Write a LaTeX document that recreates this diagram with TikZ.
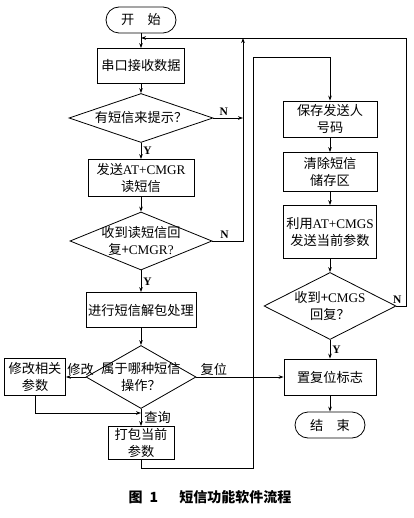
\documentclass[tikz,border=0pt]{standalone}
\usepackage{fontspec}
\setmainfont{Liberation Serif}
\newfontfamily\cjk{Noto Sans CJK SC}
\usetikzlibrary{arrows.meta,shapes.geometric}

\newcommand{\lat}[1]{{\rmfamily #1}}

\tikzset{
  txt/.style={font=\cjk\fontsize{13.2}{16.5}\selectfont},
  proc/.style 2 args={draw, rectangle, txt, align=center, inner sep=1pt,
    minimum width=#1, minimum height=#2},
  term/.style={draw, rounded corners=13pt, txt, minimum width=70pt, minimum height=26pt},
  dec/.style 2 args={draw, diamond, inner sep=0pt, minimum width=#1, minimum height=#2},
  yn/.style={font=\bfseries\fontsize{11.5}{11.5}\selectfont, inner sep=2pt}
}

\begin{document}
\begin{tikzpicture}[>={Stealth[length=5pt,width=3.6pt]}, thick, x=1pt, y=-1pt]
    \useasboundingbox (0,0) rectangle (413,518);

    % Left column
    \node[term] (start) at (141,20) {开\hspace{1em}始};
    \node[proc={87pt}{35pt}] (recv) at (141,66) {串口接收数据};
    \node[dec={144pt}{49pt}, label={[txt]center:有短信来提示？}] (ask) at (141,118) {};
    \node[proc={106pt}{37pt}] (read) at (141,178) {发送\lat{AT+CMGR}\\读短信};
    \node[dec={142pt}{58pt}, label={[txt, align=center]center:{收到读短信回\\复+\lat{CMGR?}}}] (got) at (141,241) {};
    \node[proc={110pt}{35pt}] (unpack) at (141,310) {进行短信解包处理};
    \node[dec={110pt}{63pt}, label={[txt, align=center]center:{属于哪种短信\\操作？}}] (kind) at (141,377) {};
    \node[proc={61pt}{37pt}] (modify) at (35,377) {修改相关\\参数};
    \node[proc={66pt}{33pt}] (pack) at (141,443) {打包当前\\参数};

    % Right column
    \node[proc={94pt}{36pt}] (save) at (330,119) {保存发送人\\号码};
    \node[proc={94pt}{39pt}] (clear) at (330,172) {清除短信\\储存区};
    \node[proc={93pt}{53pt}] (send) at (330,232) {利用\lat{AT+CMGS}\\发送当前参数};
    \node[dec={132pt}{67pt}, label={[txt, align=center]center:{收到+\lat{CMGS}\\回复？}}] (ack) at (330,306) {};
    \node[proc={92pt}{36pt}] (reset) at (330,377) {置复位标志};
    \node[term] (stop) at (330,425) {结\hspace{1em}束};

    % Loop points
    \coordinate (top) at (141,38);
    \coordinate (loopN) at (243,38);
    \coordinate (loopR) at (406,38);
    \coordinate (join) at (141,413);
    \coordinate (low) at (141,468);
    \coordinate (mid) at (253,57);

    % Main flow
    \draw[->] (start) -- (recv);
    \draw[->] (recv) -- (ask);
    \draw[->] (ask) -- (read) node[yn, right, midway] {Y};
    \draw[->] (read) -- (got);
    \draw[->] (got) -- (unpack) node[yn, right, midway] {Y};
    \draw[->] (unpack) -- (kind);
    \draw[->] (kind.south) -- (pack.north) node[txt, right, midway, inner sep=3pt] {查询};

    % No-branches back to the top
    \draw[->] (ask.east) -- (ask.east -| loopN) node[yn, above, pos=0.35] {N};
    \draw[->] (got.east) -| (loopN) node[yn, above, pos=0.2] {N};
    \draw[->] (ack.east) -- (ack.east -| loopR) node[yn, above, pos=0.1] {N} -- (loopR) -- (top);

    % Branches of the operation
    \draw[->] (kind.west) -- (modify.east) node[txt, above, pos=0.25, inner sep=1pt] {修改};
    \draw[->] (modify.south) |- (join);
    \draw[->] (kind.east) -- (reset.west) node[txt, above, pos=0.2, inner sep=1pt] {复位};
    \draw[->] (pack.south) -- (low) -| (mid) -| (save.north);

    % Right column flow
    \draw[->] (save) -- (clear);
    \draw[->] (clear) -- (send);
    \draw[->] (send) -- (ack);
    \draw[->] (ack) -- (reset) node[yn, right, midway] {Y};
    \draw[->] (reset) -- (stop);

    % Caption
    \node[font=\cjk\bfseries\fontsize{14}{16}\selectfont] (cap) at (210,497) {图\hspace{0.5em}1\hspace{1.5em}短信功能软件流程};
\end{tikzpicture}
\end{document}
